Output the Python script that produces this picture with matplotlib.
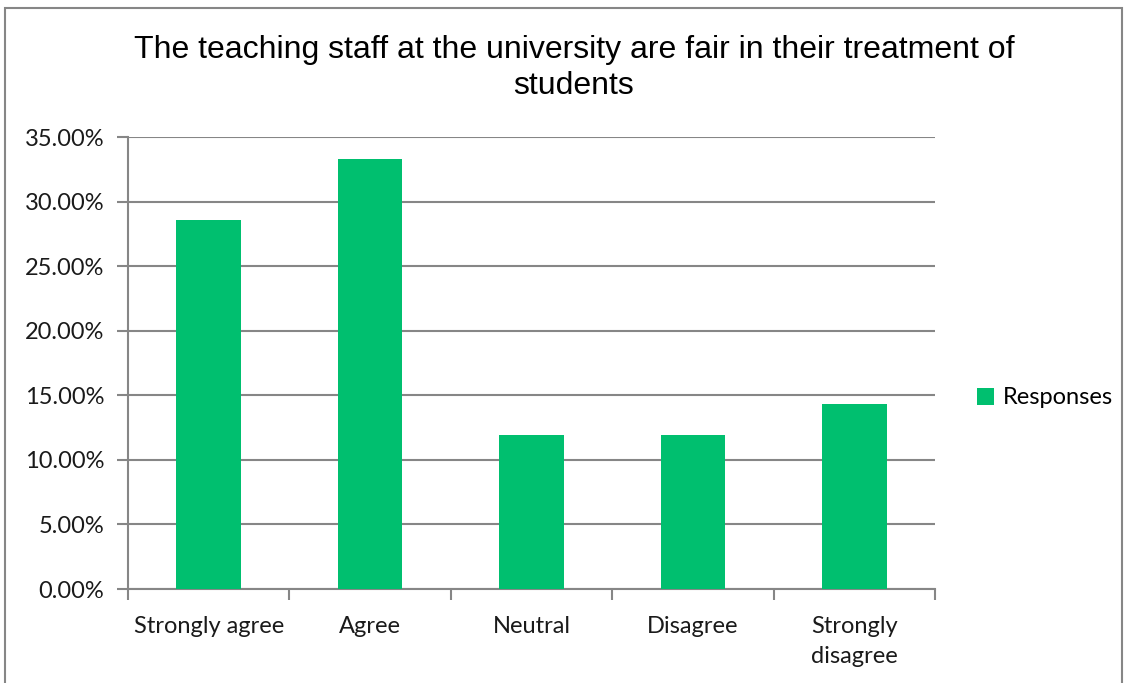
import matplotlib.pyplot as plt
from matplotlib.patches import Rectangle
from matplotlib.ticker import FuncFormatter

categories = ['Strongly agree', 'Agree', 'Neutral', 'Disagree', 'Strongly\ndisagree']
responses = [28.57, 33.33, 11.90, 11.90, 14.29]
y_ticks = [0, 5, 10, 15, 20, 25, 30, 35]

grey = '#868686'
green = '#00BF6F'
plt.rcParams['font.family'] = ['Lato', 'DejaVu Sans']

fig = plt.figure(figsize=(11.28, 6.83), dpi=100)
ax = fig.add_axes([128/1128, 1-589/683, (935-128)/1128, (589-137)/683])

x = list(range(len(categories)))
ax.bar(x, responses, width=0.40, color=green, label='Responses', zorder=3)

ax.set_xlim(-0.5, len(categories) - 0.5)
ax.set_ylim(0, 35)
ax.set_yticks(y_ticks)
ax.yaxis.set_major_formatter(FuncFormatter(lambda v, p: '%.2f%%' % v))
ax.yaxis.grid(True, color=grey, linewidth=1.5, zorder=0)

# category labels in between boundary ticks
ax.set_xticks([i - 0.5 for i in range(len(categories) + 1)])
ax.set_xticklabels([])
ax.set_xticks(x, minor=True)
ax.set_xticklabels(categories, minor=True, fontsize=17, color='#1a1a1a', linespacing=1.55)
ax.tick_params(axis='x', which='major', length=8, width=1.5, color=grey)
ax.tick_params(axis='x', which='minor', length=0, pad=19.5)
ax.tick_params(axis='y', length=8, width=1.5, color=grey, labelsize=17, labelcolor='#1a1a1a', pad=9)

for s in ['top', 'right']:
    ax.spines[s].set_visible(False)
for s in ['left', 'bottom']:
    ax.spines[s].set_color(grey)
    ax.spines[s].set_linewidth(1.5)

fig.text(574/1128, 1-68/683, 'The teaching staff at the university are fair in their treatment of\nstudents',
         ha='center', va='center', fontsize=23, family='Liberation Sans', linespacing=1.3)

ax.legend(loc='center left', bbox_to_anchor=(977/1128, 1-398/683), bbox_transform=fig.transFigure,
          frameon=False, fontsize=17, handlelength=0.7, handleheight=0.7, handletextpad=0.4,
          borderpad=0, borderaxespad=0)

# outer chart border
fig.patches.append(Rectangle((5/1128, -0.01), (1122-5)/1128, 1-8/683+0.01, transform=fig.transFigure,
                             fill=False, edgecolor=grey, linewidth=1.5))

fig.savefig('out.png', dpi=100)
